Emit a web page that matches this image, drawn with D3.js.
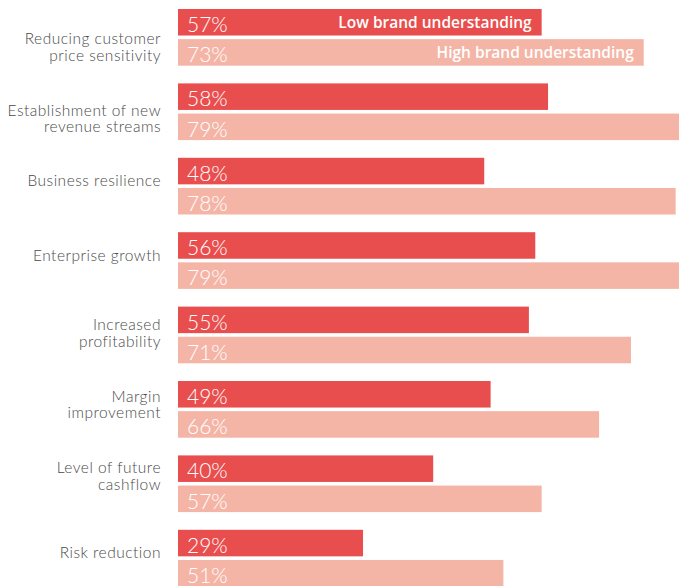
<!DOCTYPE html>
<html>
<head>
<meta charset="utf-8">
<script src="https://cdn.jsdelivr.net/npm/d3@7"></script>
<style>
    body { margin: 0; background: #ffffff; }
    svg { display: block; }
</style>
</head>
<body>
<svg></svg>
<script>
const WIDTH = 679;
const HEIGHT = 586;

// categories, each split into the lines it is printed on
const categories = [
    ["Reducing customer", "price sensitivity"],
    ["Establishment of new", "revenue streams"],
    ["Business resilience"],
    ["Enterprise growth"],
    ["Increased", "profitability"],
    ["Margin", "improvement"],
    ["Level of future", "cashflow"],
    ["Risk reduction"]
];

const seriesNames = ["Low brand understanding", "High brand understanding"];
const lowValues = [57, 58, 48, 56, 55, 49, 40, 29];
const highValues = [73, 79, 78, 79, 71, 66, 57, 51];

const colours = ["#e94e4e", "#f4b5a7"];

function drawChart(selection) {
    const rows = categories.map((c, i) => ({
        key: i,
        lines: c,
        values: [lowValues[i], highValues[i]]
    }));

    selection
        .attr("width", WIDTH)
        .attr("height", HEIGHT);

    const x = d3.scaleLinear()
        .domain([0, 100])
        .range([178, 816]);

    const y = d3.scaleBand()
        .domain(rows.map(d => d.key))
        .range([9, 586.5])
        .paddingInner(0.238)
        .paddingOuter(0);

    const ySeries = d3.scaleBand()
        .domain([0, 1])
        .range([0, y.bandwidth()])
        .paddingInner(0.12);

    // two-line labels in the original run on a slightly tighter pitch than the bars
    const yLabel = d3.scalePoint()
        .domain(rows.map(d => d.key))
        .range([44, 544.5]);

    function labelTop(d) {
        if (d.lines.length === 1) return y(d.key) + y.bandwidth() / 2;
        return yLabel(d.key);
    }

    const labels = selection.selectAll("text.label")
        .data(rows)
        .enter().append("text")
        .attr("class", "label")
        .attr("text-anchor", "end")
        .style("font-family", "Lato, sans-serif")
        .style("font-weight", "300")
        .style("font-size", "15.5px")
        .style("letter-spacing", "0.5px")
        .style("fill", "#4a4a4a");

    labels.selectAll("tspan")
        .data(d => d.lines.map(l => ({ line: l, top: labelTop(d) })))
        .enter().append("tspan")
        .attr("x", 161)
        .attr("y", (l, i) => l.top + i * 16.5)
        .text(l => l.line);

    const group = selection.selectAll("g.row")
        .data(rows)
        .enter().append("g")
        .attr("class", "row")
        .attr("transform", d => `translate(0, ${y(d.key)})`);

    const bar = group.selectAll("g.bar")
        .data(d => d.values.map((v, i) => ({ series: i, value: v, first: d.key === 0 })))
        .enter().append("g")
        .attr("class", "bar")
        .attr("transform", d => `translate(0, ${ySeries(d.series)})`);

    bar.append("rect")
        .attr("x", x(0))
        .attr("width", d => x(d.value) - x(0))
        .attr("height", ySeries.bandwidth())
        .style("fill", d => colours[d.series]);

    bar.append("text")
        .attr("x", x(0) + 9)
        .attr("y", ySeries.bandwidth() - 3.5)
        .style("font-family", "Lato, 'Open Sans', sans-serif")
        .style("font-weight", "300")
        .style("font-size", "21px")
        .style("fill", "#ffffff")
        .text(d => `${d.value}%`);

    // series names written inside the first pair of bars
    bar.filter(d => d.first)
        .append("text")
        .attr("x", d => x(d.value) - 10)
        .attr("y", ySeries.bandwidth() / 2 + 5.5)
        .attr("text-anchor", "end")
        .style("font-family", "'Open Sans', sans-serif")
        .style("font-weight", "600")
        .style("font-size", "15.5px")
        .style("fill", "#ffffff")
        .text(d => seriesNames[d.series]);
}

function onReady() {
    drawChart(d3.select("svg"));
}

document.addEventListener("DOMContentLoaded", onReady);
</script>
</body>
</html>
